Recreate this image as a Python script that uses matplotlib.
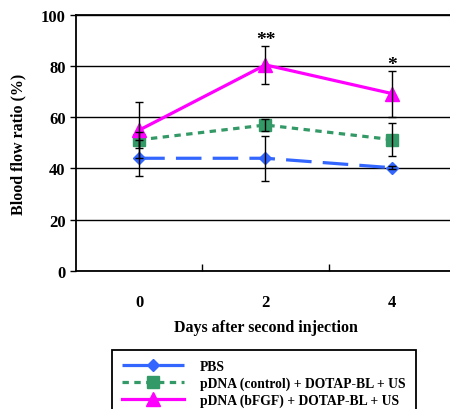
import matplotlib
matplotlib.use("Agg")
import matplotlib.pyplot as plt

# values
days = [0, 2, 4]
pbs = [44, 44, 40.3]
pbs_err = [7, 8.7, 0.5]
ctrl = [51.2, 57, 51.3]
ctrl_err = [3, 2.3, 6.5]
bfgf = [55, 80.5, 69.3]
bfgf_err = [11, 7.5, 9]
stars = ["", "**", "*"]
star_y = [0, 87, 77.5]
yticks = [0, 20, 40, 60, 80, 100]
labels = ["PBS", "pDNA (control) + DOTAP-BL + US", "pDNA (bFGF) + DOTAP-BL + US"]

plt.rcParams['font.family'] = ['Liberation Serif', 'DejaVu Serif']
plt.rcParams['font.weight'] = 'bold'

fig = plt.figure(figsize=(4.5, 4.1), dpi=100)
ax = fig.add_axes([0.169, 0.337, 0.842, 0.624])

lw = 2.3
ax.plot(days, pbs, color='#3366ff', lw=lw, dashes=(8, 3.5), marker='D', ms=6.5,
        label=labels[0], zorder=3)
ax.plot(days, ctrl, color='#339966', lw=lw, dashes=(2, 1.7), marker='s', ms=8,
        label=labels[1], zorder=3)
ax.plot(days, bfgf, color='#ff00ff', lw=lw, marker='^', ms=9.5,
        label=labels[2], zorder=3)

for vals, errs in [(pbs, pbs_err), (ctrl, ctrl_err), (bfgf, bfgf_err)]:
    ax.errorbar(days, vals, yerr=errs, fmt='none', ecolor='black', elinewidth=1,
                capsize=3, capthick=1, zorder=4)

for d, s, y in zip(days, stars, star_y):
    if s:
        ax.text(d, y, s, ha='center', va='bottom', fontsize=14, fontweight='bold')

ax.set_xlim(-1, 5)
ax.set_ylim(0, 100)
ax.set_yticks(yticks)
ax.yaxis.grid(True, color='black', lw=1)
ax.set_axisbelow(True)
ax.set_xticks(days)
ax.set_xticks([1, 3], minor=True)
ax.tick_params(axis='x', which='major', length=0, pad=17, labelsize=12)
ax.tick_params(axis='x', which='minor', direction='in', length=5, width=1)
ax.tick_params(axis='y', direction='out', length=4, width=1, labelsize=12)
for sp in ax.spines.values():
    sp.set_linewidth(1.3)

ax.set_ylabel("Blood flow ratio (%)", fontsize=11.5, fontweight='bold', labelpad=10)
ax.set_xlabel("Days after second injection", fontsize=11.5, fontweight='bold', labelpad=6)

leg = fig.legend(loc='upper left', bbox_to_anchor=(0.249, 0.144), borderaxespad=0,
                 fontsize=9.8, handlelength=4.5, fancybox=False, edgecolor='black',
                 framealpha=1, labelspacing=0.25, borderpad=0.75, handletextpad=1.2)
leg.get_frame().set_linewidth(1.3)
for t in leg.get_texts():
    t.set_fontweight('bold')

fig.savefig("out.png", dpi=100)
